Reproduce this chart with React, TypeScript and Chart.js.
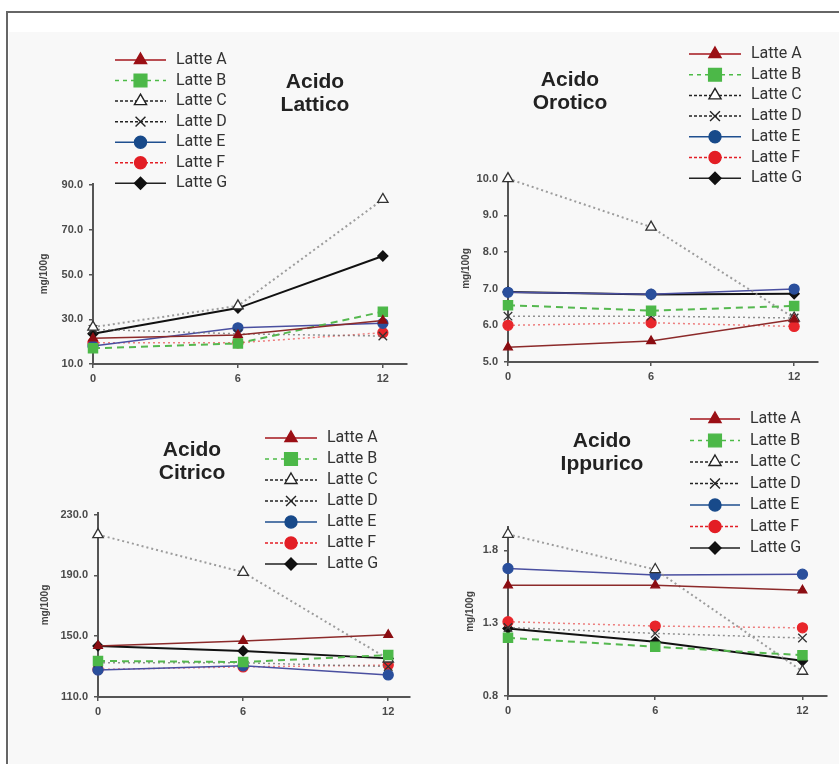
import React, { useEffect, useRef } from 'react';
import { Chart, registerables } from 'chart.js';
import { drawPoint } from 'chart.js/helpers';

Chart.register(...registerables);

// ---------- DATA ----------
const months = [0, 6, 12];
const xTicks = [0, 6, 12];
const latteLabels = ['Latte A', 'Latte B', 'Latte C', 'Latte D', 'Latte E', 'Latte F', 'Latte G'];
const yTitle = 'mg/100g';

const latticoTitle = ['Acido', 'Lattico'];
const latticoTicks = [10, 30, 50, 70, 90];
const latticoValues = [
  [21.5, 23.0, 29.4],
  [17.0, 19.2, 33.4],
  [26.5, 36.0, 83.6],
  [25.5, 23.5, 22.5],
  [18.0, 26.2, 28.2],
  [19.5, 19.5, 24.0],
  [23.5, 35.0, 58.3],
];

const oroticoTitle = ['Acido', 'Orotico'];
const oroticoTicks = [5, 6, 7, 8, 9, 10];
const oroticoValues = [
  [5.4, 5.57, 6.16],
  [6.55, 6.4, 6.53],
  [10.0, 8.68, 6.2],
  [6.25, 6.25, 6.2],
  [6.9, 6.85, 6.99],
  [6.0, 6.07, 5.97],
  [6.91, 6.84, 6.86],
];

const citricoTitle = ['Acido', 'Citrico'];
const citricoTicks = [110, 150, 190, 230];
const citricoValues = [
  [143.6, 146.9, 150.9],
  [133.7, 133.0, 137.6],
  [216.8, 192.0, 135.0],
  [132.5, 132.5, 130.0],
  [127.7, 130.5, 124.5],
  [128.1, 129.8, 131.0],
  [143.6, 140.3, 135.4],
];

const ippuricoTitle = ['Acido', 'Ippurico'];
const ippuricoTicks = [0.8, 1.3, 1.8];
const ippuricoValues = [
  [1.56, 1.56, 1.526],
  [1.2, 1.138, 1.08],
  [1.91, 1.668, 0.97],
  [1.27, 1.23, 1.198],
  [1.675, 1.63, 1.636],
  [1.31, 1.28, 1.268],
  [1.264, 1.172, 1.042],
];

// ---------- STYLES ----------
const W = 839;
const H = 764;
const X_H = 30;
const FONT = "'Liberation Sans', Arial, sans-serif";

const seriesStyles = [
  { line: '#8c2a2a', width: 1.5, dash: [], style: 'triangle', fill: '#8b0d12', stroke: '#8b0d12', r: 5,
    lColor: '#a4161c', lDash: [], lFill: '#9b0f15', lStroke: '#9b0f15', lr: 7 },
  { line: '#55b84f', width: 2, dash: [7, 5], style: 'rect', fill: '#4cb848', stroke: '#4cb848', r: 6.5,
    lColor: '#4dbb47', lDash: [4, 4], lFill: '#4cb848', lStroke: '#4cb848', lr: 9 },
  { line: 'rgba(140,140,140,0.85)', width: 2, dash: [2, 3], style: 'triangle', fill: '#ffffff', stroke: '#333', r: 6,
    lColor: '#222', lDash: [3, 2], lFill: '#ffffff', lStroke: '#222', lr: 7 },
  { line: 'rgba(110,110,110,0.75)', width: 1.5, dash: [2, 3], style: 'crossRot', fill: '#333', stroke: '#333', r: 6,
    lColor: '#222', lDash: [3, 2], lFill: '#222', lStroke: '#222', lr: 7 },
  { line: '#4a4fa0', width: 1.5, dash: [], style: 'circle', fill: '#2a4f9c', stroke: '#2a4f9c', r: 5,
    lColor: '#1f4f8f', lDash: [], lFill: '#184a8a', lStroke: '#184a8a', lr: 6 },
  { line: 'rgba(230,60,60,0.65)', width: 1.5, dash: [2, 3], style: 'circle', fill: '#e8262b', stroke: '#e8262b', r: 5,
    lColor: '#e31e25', lDash: [3, 2], lFill: '#e31e25', lStroke: '#e31e25', lr: 6 },
  { line: '#111', width: 2, dash: [], style: 'rectRot', fill: '#111', stroke: '#111', r: 5,
    lColor: '#222', lDash: [], lFill: '#111', lStroke: '#111', lr: 6 },
];

const panels = [
  {
    title: latticoTitle, values: latticoValues, yTicks: latticoTicks, yMin: 10, yMax: 90.5, xMax: 13,
    area: { left: 93, right: 407, top: 184, bottom: 364 }, yTitleX: 44,
    titleX: 315, titleY: 82, legend: { x1: 115, x2: 166, textX: 176, y0: 60, step: 20.55 },
  },
  {
    title: oroticoTitle, values: oroticoValues, yTicks: oroticoTicks, yMin: 5, yMax: 10.1, xMax: 13,
    area: { left: 508, right: 818, top: 175, bottom: 362 }, yTitleX: 466,
    titleX: 570, titleY: 80, legend: { x1: 689, x2: 741, textX: 751, y0: 54, step: 20.7 },
  },
  {
    title: citricoTitle, values: citricoValues, yTicks: citricoTicks, yMin: 110, yMax: 231, xMax: 12.9,
    area: { left: 98, right: 410, top: 513, bottom: 697 }, yTitleX: 45,
    titleX: 192, titleY: 450, legend: { x1: 265, x2: 317, textX: 327, y0: 438, step: 21 },
  },
  {
    title: ippuricoTitle, values: ippuricoValues, yTicks: ippuricoTicks, yMin: 0.8, yMax: 1.96, xMax: 13,
    area: { left: 508, right: 827, top: 527, bottom: 696 }, yTitleX: 470,
    titleX: 602, titleY: 441, legend: { x1: 690, x2: 740, textX: 750, y0: 419, step: 21.5 },
  },
];

const decorPlugin = {
  id: 'panelDecor',
  afterDraw(chart: any, _args: any, opts: any) {
    const ctx = chart.ctx as CanvasRenderingContext2D;
    ctx.save();
    ctx.fillStyle = '#222';
    ctx.font = `bold 21px ${FONT}`;
    ctx.textAlign = 'center';
    ctx.textBaseline = 'middle';
    (opts.title as string[]).forEach((t, i) => ctx.fillText(t, opts.titleX, opts.titleY + i * 23.5));
    const lg = opts.legend;
    chart.data.datasets.forEach((ds: any, i: number) => {
      const y = lg.y0 + i * lg.step;
      const st = seriesStyles[i];
      ctx.save();
      ctx.strokeStyle = st.lColor;
      ctx.lineWidth = 1.5;
      ctx.setLineDash(st.lDash);
      ctx.beginPath();
      ctx.moveTo(lg.x1, y);
      ctx.lineTo(lg.x2, y);
      ctx.stroke();
      ctx.setLineDash([]);
      ctx.fillStyle = st.lFill;
      ctx.strokeStyle = st.lStroke;
      ctx.lineWidth = 1.4;
      drawPoint(ctx, { pointStyle: st.style as any, radius: st.lr, rotation: 0, borderWidth: 1.4 } as any,
        (lg.x1 + lg.x2) / 2, y);
      ctx.restore();
      ctx.fillStyle = '#333';
      ctx.font = '16px Roboto, sans-serif';
      ctx.textAlign = 'left';
      ctx.textBaseline = 'middle';
      ctx.fillText(ds.label, lg.textX, y);
    });
    ctx.restore();
  },
};

function makeConfig(p: any): any {
  const yScaleLeft = p.yTitleX - 6;
  const gridOpts = { display: true, drawOnChartArea: false, drawTicks: true, tickLength: 4, color: '#555', lineWidth: 1.5 };
  const borderOpts = { display: true, color: '#555', width: 2 };
  const tickFont = { family: FONT, size: 11, weight: 'bold' as const };
  return {
    type: 'line',
    data: {
      datasets: latteLabels.map((label, i) => {
        const st = seriesStyles[i];
        return {
          label,
          data: months.map((m, j) => ({ x: m, y: p.values[i][j] })),
          borderColor: st.line,
          borderWidth: st.width,
          borderDash: st.dash,
          pointStyle: st.style,
          pointRadius: st.r,
          pointBackgroundColor: st.fill,
          pointBorderColor: st.stroke,
          pointBorderWidth: 1.3,
          tension: 0,
          fill: false,
          clip: false,
        };
      }),
    },
    options: {
      animation: false,
      responsive: false,
      events: [],
      layout: {
        padding: {
          left: yScaleLeft,
          top: p.area.top,
          right: W - p.area.right,
          bottom: H - p.area.bottom - X_H,
        },
      },
      plugins: {
        legend: { display: false },
        tooltip: { enabled: false },
        title: { display: false },
        panelDecor: { title: p.title, titleX: p.titleX, titleY: p.titleY, legend: p.legend },
      },
      scales: {
        x: {
          type: 'linear',
          min: 0,
          max: p.xMax,
          afterBuildTicks: (s: any) => { s.ticks = xTicks.map((v) => ({ value: v })); },
          afterFit: (s: any) => { s.height = X_H; },
          grid: gridOpts,
          border: borderOpts,
          ticks: { color: '#4a4a4a', font: tickFont, padding: 4, maxRotation: 0, autoSkip: false,
            callback: (v: any) => String(v) },
        },
        y: {
          type: 'linear',
          min: p.yMin,
          max: p.yMax,
          afterBuildTicks: (s: any) => { s.ticks = (p.yTicks as number[]).map((v) => ({ value: v })); },
          afterFit: (s: any) => { s.width = p.area.left - yScaleLeft; },
          grid: gridOpts,
          border: borderOpts,
          ticks: { color: '#4a4a4a', font: tickFont, padding: 6, autoSkip: false,
            callback: (v: any) => Number(v).toFixed(1) },
          title: { display: true, text: yTitle, color: '#444', padding: 0,
            font: { family: FONT, size: 10, weight: 'bold' } },
        },
      },
    },
    plugins: [decorPlugin],
  };
}

export default function App() {
  const refs = [useRef<HTMLCanvasElement>(null), useRef<HTMLCanvasElement>(null),
    useRef<HTMLCanvasElement>(null), useRef<HTMLCanvasElement>(null)];
  useEffect(() => {
    const charts = panels.map((p, i) => new Chart(refs[i].current as HTMLCanvasElement, makeConfig(p)));
    return () => charts.forEach((c) => c.destroy());
  }, []);
  return (
    <div style={{ position: 'fixed', left: 0, top: 0, width: W, height: H, background: '#fff', overflow: 'hidden' }}>
      <div style={{ position: 'absolute', left: 9, top: 32, right: 0, bottom: 0, background: '#f8f8f8' }} />
      <div style={{ position: 'absolute', left: 6, top: 11, width: W, height: H,
        borderLeft: '2px solid #666', borderTop: '2px solid #666' }} />
      {refs.map((r, i) => (
        <canvas key={i} ref={r} width={W} height={H}
          style={{ position: 'absolute', left: 0, top: 0, width: W, height: H }} />
      ))}
    </div>
  );
}
